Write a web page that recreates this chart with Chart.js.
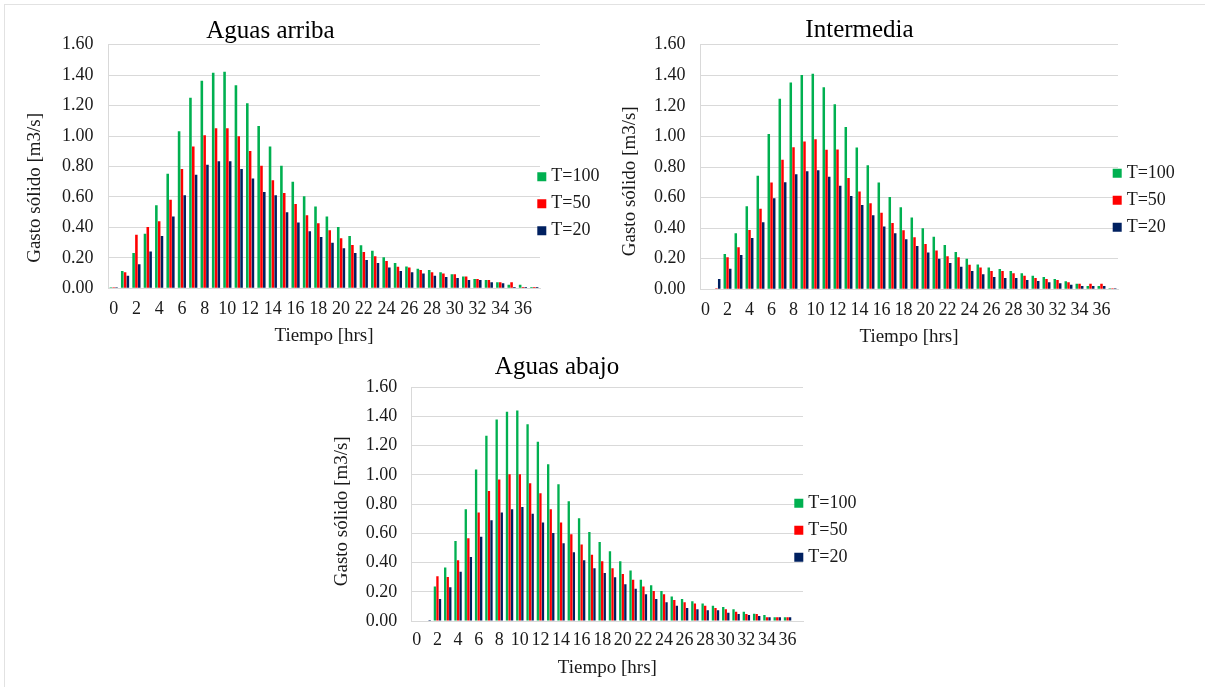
<!DOCTYPE html>
<html>
<head>
<meta charset="utf-8">
<script src="https://cdn.jsdelivr.net/npm/chart.js@4.4.1/dist/chart.umd.min.js"></script>
<style>
html,body{margin:0;padding:0;background:#fff;overflow:hidden;width:1205px;height:687px;}
#frame{position:absolute;left:4px;top:4px;width:1400px;height:900px;border-left:1px solid #e2e2e2;border-top:1px solid #e2e2e2;}
canvas{position:absolute;}
</style>
</head>
<body>
<div id="frame"></div>
<canvas id="c1" width="624" height="350" style="left:0px;top:0px"></canvas>
<canvas id="c2" width="632" height="350" style="left:600px;top:0px"></canvas>
<canvas id="c3" width="586" height="347" style="left:310px;top:340px"></canvas>
<script>
// ---- data ----
const hours = [0,1,2,3,4,5,6,7,8,9,10,11,12,13,14,15,16,17,18,19,20,21,22,23,24,25,26,27,28,29,30,31,32,33,34,35,36,37];
const seriesNames = ['T=100', 'T=50', 'T=20'];
const chartTitles = ['Aguas arriba', 'Intermedia', 'Aguas abajo'];
const xAxisTitle = 'Tiempo [hrs]';
const yAxisTitle = 'Gasto sólido [m3/s]';

const arribaT100 = [0.007,0.114,0.232,0.359,0.545,0.753,1.031,1.252,1.364,1.416,1.423,1.333,1.215,1.066,0.932,0.805,0.700,0.604,0.538,0.471,0.403,0.344,0.282,0.247,0.204,0.166,0.144,0.129,0.120,0.105,0.092,0.077,0.061,0.055,0.039,0.024,0.024,0.009];
const arribaT50  = [0.007,0.105,0.352,0.403,0.440,0.582,0.784,0.932,1.005,1.051,1.051,0.998,0.902,0.805,0.709,0.626,0.554,0.479,0.427,0.381,0.328,0.285,0.239,0.210,0.179,0.142,0.136,0.120,0.105,0.098,0.092,0.077,0.061,0.055,0.039,0.039,0.009,0.009];
const arribaT20  = [0.007,0.083,0.158,0.241,0.344,0.471,0.611,0.746,0.812,0.834,0.834,0.784,0.722,0.633,0.611,0.499,0.433,0.374,0.337,0.300,0.263,0.232,0.186,0.166,0.136,0.114,0.105,0.098,0.083,0.074,0.068,0.055,0.055,0.039,0.033,0.009,0.009,0.009];

const intermediaT100 = [0,0,0.231,0.366,0.543,0.743,1.016,1.247,1.352,1.402,1.410,1.321,1.210,1.061,0.928,0.811,0.698,0.604,0.536,0.469,0.399,0.343,0.290,0.244,0.200,0.163,0.142,0.133,0.120,0.105,0.089,0.081,0.068,0.052,0.037,0.022,0.022,0.007];
const intermediaT50  = [0,0.007,0.209,0.275,0.388,0.527,0.698,0.848,0.929,0.966,0.981,0.913,0.915,0.728,0.639,0.563,0.500,0.434,0.386,0.340,0.296,0.253,0.216,0.209,0.160,0.142,0.120,0.120,0.105,0.089,0.074,0.068,0.061,0.046,0.037,0.037,0.037,0.007];
const intermediaT20  = [0,0.068,0.135,0.225,0.336,0.438,0.595,0.700,0.752,0.772,0.778,0.737,0.678,0.610,0.551,0.484,0.410,0.366,0.327,0.283,0.240,0.200,0.172,0.148,0.120,0.098,0.081,0.074,0.074,0.061,0.054,0.046,0.039,0.030,0.022,0.022,0.022,0.007];

const abajoT100 = [0,0,0.237,0.367,0.548,0.765,1.037,1.269,1.379,1.432,1.441,1.347,1.228,1.073,0.936,0.820,0.703,0.610,0.541,0.477,0.409,0.345,0.283,0.244,0.205,0.167,0.151,0.135,0.119,0.105,0.096,0.080,0.064,0.050,0.041,0.025,0.025,0];
const abajoT50  = [0,0,0.306,0.301,0.416,0.566,0.743,0.890,0.968,1.005,1.005,0.943,0.874,0.765,0.674,0.594,0.523,0.454,0.409,0.361,0.322,0.283,0.237,0.205,0.183,0.144,0.128,0.119,0.105,0.089,0.080,0.064,0.048,0.048,0.025,0.025,0.025,0];
const abajoT20  = [0,0.007,0.151,0.231,0.338,0.438,0.577,0.689,0.742,0.765,0.781,0.735,0.674,0.603,0.532,0.470,0.416,0.361,0.329,0.299,0.251,0.221,0.183,0.151,0.128,0.105,0.089,0.080,0.073,0.073,0.057,0.048,0.041,0.034,0.025,0.025,0.025,0];

// ---- style ----
const FONT = "'Liberation Serif','Times New Roman',serif";
const seriesColors = ['#00B050', '#FF0000', '#002060'];
const GRID = '#d9d9d9';
const TXT = '#1a1a1a';

function build(id, title, series, g) {
  const canvas = document.getElementById(id);
  const W = canvas.width, H = canvas.height;
  const LP = 9; // legend padding
  const placeLegend = {
    id: 'placeLegend',
    afterLayout(chart) {
      const lg = chart.legend;
      const h = lg.height;
      lg.left = g.legendX + 4 - LP; lg.width = 120; lg.right = lg.left + 120;
      lg.top = g.legendY - 9 - LP; lg.bottom = lg.top + h;
    }
  };
  return new Chart(canvas, {
    type: 'bar',
    data: {
      labels: hours,
      datasets: series.map((d, i) => ({
        label: seriesNames[i], data: d, backgroundColor: seriesColors[i],
        borderWidth: 0, categoryPercentage: 0.74, barPercentage: 0.92
      }))
    },
    options: {
      responsive: false, animation: false, devicePixelRatio: 1,
      layout: { padding: { left: 0, top: 0, bottom: 0, right: W - 1 - g.plotRight } },
      plugins: {
        title: { display: true, text: title, color: '#000',
          font: { family: FONT, size: 25, lineHeight: 1, weight: 'normal' },
          padding: { top: g.titleY - 12.5, bottom: g.plotTop - (g.titleY - 12.5) - 25 } },
        legend: { position: 'right', align: 'start', maxWidth: 1,
          labels: { usePointStyle: true, pointStyle: 'rect', boxWidth: 1, boxHeight: 9, padding: LP,
            color: TXT, font: { family: FONT, size: 18 } } },
        tooltip: { enabled: false }
      },
      scales: {
        x: {
          grid: { display: false, drawTicks: false },
          border: { display: true, color: GRID },
          ticks: { autoSkip: false, maxRotation: 0, minRotation: 0, padding: g.xTickPad, color: TXT,
            font: { family: FONT, size: 18 },
            callback(v, i) { return i % 2 === 0 ? this.getLabelForValue(v) : ''; } },
          title: { display: true, text: xAxisTitle, color: TXT, font: { family: FONT, size: 19 },
            padding: { top: 0, bottom: g.xTitlePad } },
          afterFit(s) { s.height = H - g.plotBottom; }
        },
        y: {
          min: 0, max: 1.6,
          grid: { color: GRID, drawTicks: false },
          border: { display: true, color: GRID },
          ticks: { stepSize: 0.2, padding: 14.5, color: TXT, font: { family: FONT, size: 18 },
            callback: v => Number(v).toFixed(2) },
          title: { display: true, text: yAxisTitle + g.ySuffix, color: TXT, font: { family: FONT, size: 19 },
            padding: { top: g.yTitlePad, bottom: 0 } },
          afterFit(s) { s.width = g.plotLeft; }
        }
      }
    },
    plugins: [placeLegend]
  });
}

build('c1', chartTitles[0], [arribaT100, arribaT50, arribaT20],
  { plotLeft: 108, plotRight: 540, plotTop: 44.7, plotBottom: 288.3, titleY: 31,
    legendX: 537.3, legendY: 176.7, xTickPad: 10, xTitlePad: 2.6, yTitlePad: 23.6,
    ySuffix: '         ' });
build('c2', chartTitles[1], [intermediaT100, intermediaT50, intermediaT20],
  { plotLeft: 100, plotRight: 518, plotTop: 44.7, plotBottom: 289.3, titleY: 30,
    legendX: 512.7, legendY: 173.3, xTickPad: 10, xTitlePad: 1.6, yTitlePad: 18.6,
    ySuffix: '      ' });
build('c3', chartTitles[2], [abajoT100, abajoT50, abajoT20],
  { plotLeft: 101.7, plotRight: 493, plotTop: 47.3, plotBottom: 281, titleY: 27,
    legendX: 484.3, legendY: 163.3, xTickPad: 8.5, xTitlePad: 7.6, yTitlePad: 20.6,
    ySuffix: '   ' });
</script>
</body>
</html>
